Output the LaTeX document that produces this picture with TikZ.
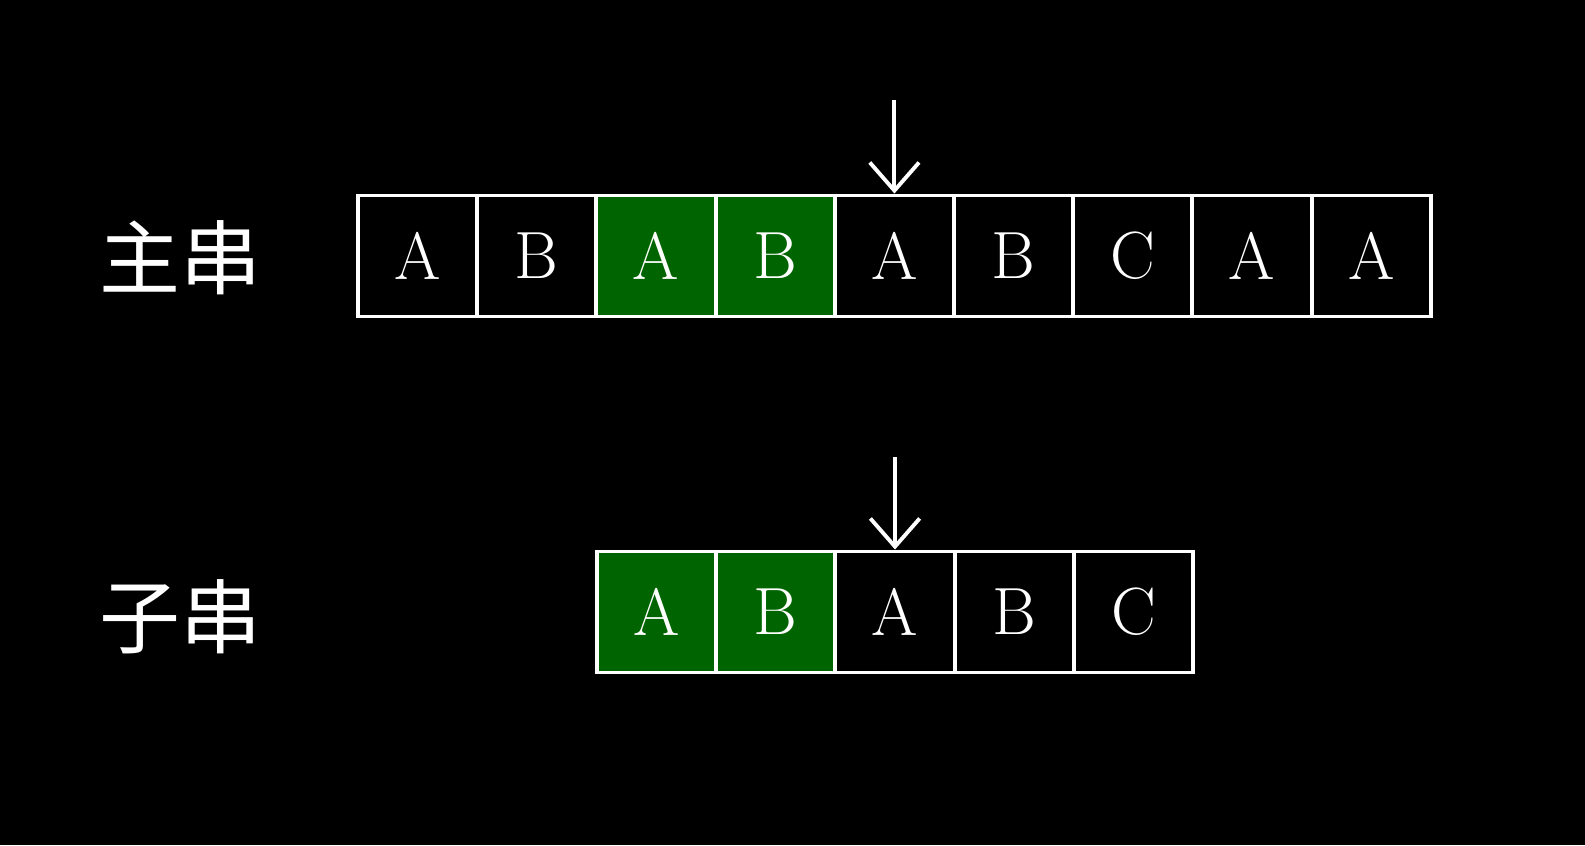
\documentclass[tikz,border=0pt]{standalone}
\usepackage{fontspec}
\newfontfamily\cjk{Noto Sans CJK SC}
\usetikzlibrary{arrows.meta}
\definecolor{matchgreen}{HTML}{006400}
\tikzset{
  cell/.style={draw=white, line width=1.1pt, minimum width=1.192cm, minimum height=1.21cm,
    inner sep=0pt, text=white, font=\fontsize{19}{19}\selectfont},
  hit/.style={cell, fill=matchgreen},
  pointer/.style={draw=white, line width=1.1pt, -{Straight Barb[length=8pt,width=14pt]}},
  strlabel/.style={text=white, font=\cjk\fontsize{23}{23}\selectfont}
}
\begin{document}
\begin{tikzpicture}[x=0.01cm, y=-0.01cm]
\useasboundingbox (0,0) rectangle (1585,845);
\fill[black] (0,0) rectangle (1585,845);
% main string
\foreach \ch [count=\i] in {A,B,A,B,A,B,C,A,A} {
  \ifnum\i=3 \def\sty{hit}\else\ifnum\i=4 \def\sty{hit}\else\def\sty{cell}\fi\fi
  \node[\sty] (m\i) at (358+119.2*\i-59.6, 256) {\ch};
}
% sub string
\foreach \ch [count=\i] in {A,B,A,B,C} {
  \ifnum\i<3 \def\sty{hit}\else\def\sty{cell}\fi
  \node[\sty] (s\i) at (597+119.2*\i-59.6, 612) {\ch};
}
\node[strlabel] (main) at (180,258) {主串};
\node[strlabel] (sub) at (180,617) {子串};
\coordinate (mtop) at (m5.north |- 0,100);
\coordinate (stop) at (s3.north |- 0,457);
\draw[pointer] (mtop) -- (m5.north);
\draw[pointer] (stop) -- (s3.north);
\end{tikzpicture}
\end{document}
